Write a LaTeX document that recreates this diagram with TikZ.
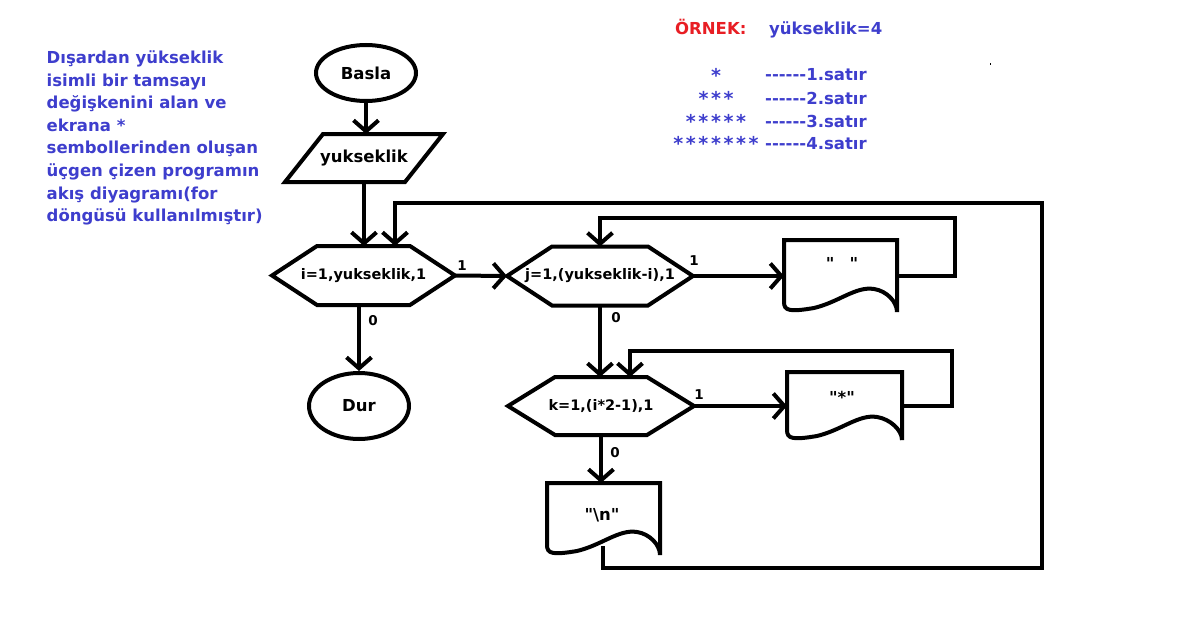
\documentclass[tikz,border=0pt]{standalone}
\usepackage{fontspec}
\setmainfont{DejaVu Sans}[Ligatures=TeXOff]
\usetikzlibrary{arrows.meta,calc,shapes.geometric}
\definecolor{txtblue}{RGB}{62,62,205}
\definecolor{txtred}{RGB}{232,30,36}
\newcommand\hexshape[2]{\draw[shp] (#1.west) -- ([xshift=#2]#1.north west) -- ([xshift=-#2]#1.north east) -- (#1.east) -- ([xshift=-#2]#1.south east) -- ([xshift=#2]#1.south west) -- cycle;}
\newcommand\docshape[1]{\draw[shp] (#1.south east) -- (#1.north east) -- (#1.north west) -- ($(#1.south west)+(0,-10)$) .. controls ($(#1.south west)+(0,-1)$) and ($(#1.south west)+(6,0)$) .. ($(#1.south west)+(30,-4)$) .. controls ($(#1.south west)+(55,-10)$) and ($(#1.south west)+(72,-26)$) .. ($(#1.south west)+(90,-23)$) .. controls ($(#1.south west)+(103,-21)$) and ($(#1.south east)+(0,-10)$) .. (#1.south east);}
\newcommand\sk{\kern2.6pt}
\newcommand\st{\raisebox{-1.5pt}{\fontsize{19}{20}\selectfont *}}
\begin{document}
\begin{tikzpicture}[x=1pt,y=-1pt,
  shp/.style={line width=4pt},
  conn/.style={line width=4pt},
  arr/.style={-{Straight Barb[length=11pt,width=25pt]}},
  box/.style={inner sep=0pt,outer sep=0pt,font=\bfseries\fontsize{16.5}{20}\selectfont},
  hexbox/.style={box,font=\bfseries\fontsize{14.5}{18}\selectfont},
  term/.style={ellipse,draw,line width=4pt,inner sep=0pt,font=\bfseries\fontsize{16.5}{20}\selectfont},
  lbl/.style={inner sep=0pt,font=\bfseries\fontsize{13.5}{15}\selectfont},
  bluet/.style={inner sep=0pt,text=txtblue,font=\bfseries\fontsize{16.5}{22.6}\selectfont},
  redt/.style={inner sep=0pt,text=txtred,font=\bfseries\fontsize{16.5}{22.6}\selectfont}]
\fill[white] (0,0) rectangle (1203,642);
\useasboundingbox (0,0) rectangle (1203,642);

% description
\node[bluet,anchor=north west,align=left] (desc) at (46.5,50.5) {Dışardan yükseklik\\isimli bir tamsayı\\değişkenini alan ve\\ekrana *\\sembollerinden oluşan\\üçgen çizen programın\\akış diyagramı(for\\döngüsü kullanılmıştır)};

% example
\node[redt,anchor=base west] (ornek) at (675,35) {ÖRNEK:};
\node[bluet,anchor=base west] (yuk) at (769,35) {yükseklik=4};
\node[bluet,anchor=base] (s1) at (716,81) {\st};
\node[bluet,anchor=base] (s2) at (716,104) {\st\sk\st\sk\st};
\node[bluet,anchor=base] (s3) at (716,127) {\st\sk\st\sk\st\sk\st\sk\st};
\node[bluet,anchor=base] (s4) at (716,149.5) {\st\sk\st\sk\st\sk\st\sk\st\sk\st\sk\st};
\node[bluet,anchor=base west] (r1t) at (765,81) {------1.satır};
\node[bluet,anchor=base west] (r2t) at (765,104) {------2.satır};
\node[bluet,anchor=base west] (r3t) at (765,127) {------3.satır};
\node[bluet,anchor=base west] (r4t) at (765,149.5) {------4.satır};
\fill (989.5,63.5) rectangle (991,65);

% shapes
\node[term,minimum width=100pt,minimum height=56pt] (basla) at (366,73) {Basla};
\node[box,minimum width=158pt,minimum height=48pt] (inp) at (364,158) {yukseklik};
\draw[shp] (inp.south west) -- ([xshift=38pt]inp.north west) -- (inp.north east) -- ([xshift=-38pt]inp.south east) -- cycle;
\node[hexbox,minimum width=183pt,minimum height=59pt] (h1) at (363.5,275.5) {i=1,yukseklik,1};
\hexshape{h1}{45pt}
\node[term,minimum width=100pt,minimum height=66pt] (dur) at (359,406) {Dur};
\node[hexbox,minimum width=186pt,minimum height=59pt] (h2) at (600,276) {j=1,(yukseklik-i),1};
\hexshape{h2}{45pt}
\node[box,minimum width=113pt,minimum height=72pt] (d1) at (840.5,276) {};
\docshape{d1}
\node[box] (d1t) at (842,263) {"\hspace{15pt}"};
\node[hexbox,minimum width=186pt,minimum height=58pt] (h3) at (601,406) {k=1,(i*2-1),1};
\hexshape{h3}{47pt}
\node[box,minimum width=115pt,minimum height=68pt] (d2) at (844.5,406) {};
\docshape{d2}
\node[box] (d2t) at (842,397) {"*"};
\node[box,minimum width=113pt,minimum height=72pt] (d3) at (603.5,519) {};
\docshape{d3}
\node[box] (d3t) at (602,515) {"\textbackslash n"};

% labels
\node[lbl] (l1) at (462,266) {1};
\node[lbl] (l0) at (373,321) {0};
\node[lbl] (l2) at (694,261) {1};
\node[lbl] (l3) at (616,318) {0};
\node[lbl] (l4) at (699,395) {1};
\node[lbl] (l5) at (615,453) {0};

% routing points
\coordinate (rp1) at (955,218);
\coordinate (rp2) at (952,351);
\coordinate (d3w) at ($(d3.south west)+(56,-9)$);
\coordinate (bl) at (1042,568);
\coordinate (tl) at (1042,203);

% connectors
\draw[conn,arr] (basla.south) -- (basla.south |- inp.north);
\draw[conn,arr] (inp.south) -- (inp.south |- h1.north);
\draw[conn,arr] (h1.south -| dur.north) -- (dur.north);
\draw[conn,arr] (h1.east) -- (h2.west);
\draw[conn,arr] (h2.east) -- (d1.west);
\draw[conn,arr] (d1.east) -| (rp1) -| (h2.north);
\draw[conn,arr] (h2.south) -- (h2.south |- h3.north);
\draw[conn,arr] (h3.east) -- (d2.west);
\draw[conn,arr] (d2.east) -| (rp2) -| ([xshift=29pt]h3.north);
\draw[conn,arr] (h3.south) -- (h3.south |- d3.north);
\draw[conn,arr] (d3w) |- (bl) -- (tl) -| ([xshift=31.5pt]h1.north);
\end{tikzpicture}
\end{document}
